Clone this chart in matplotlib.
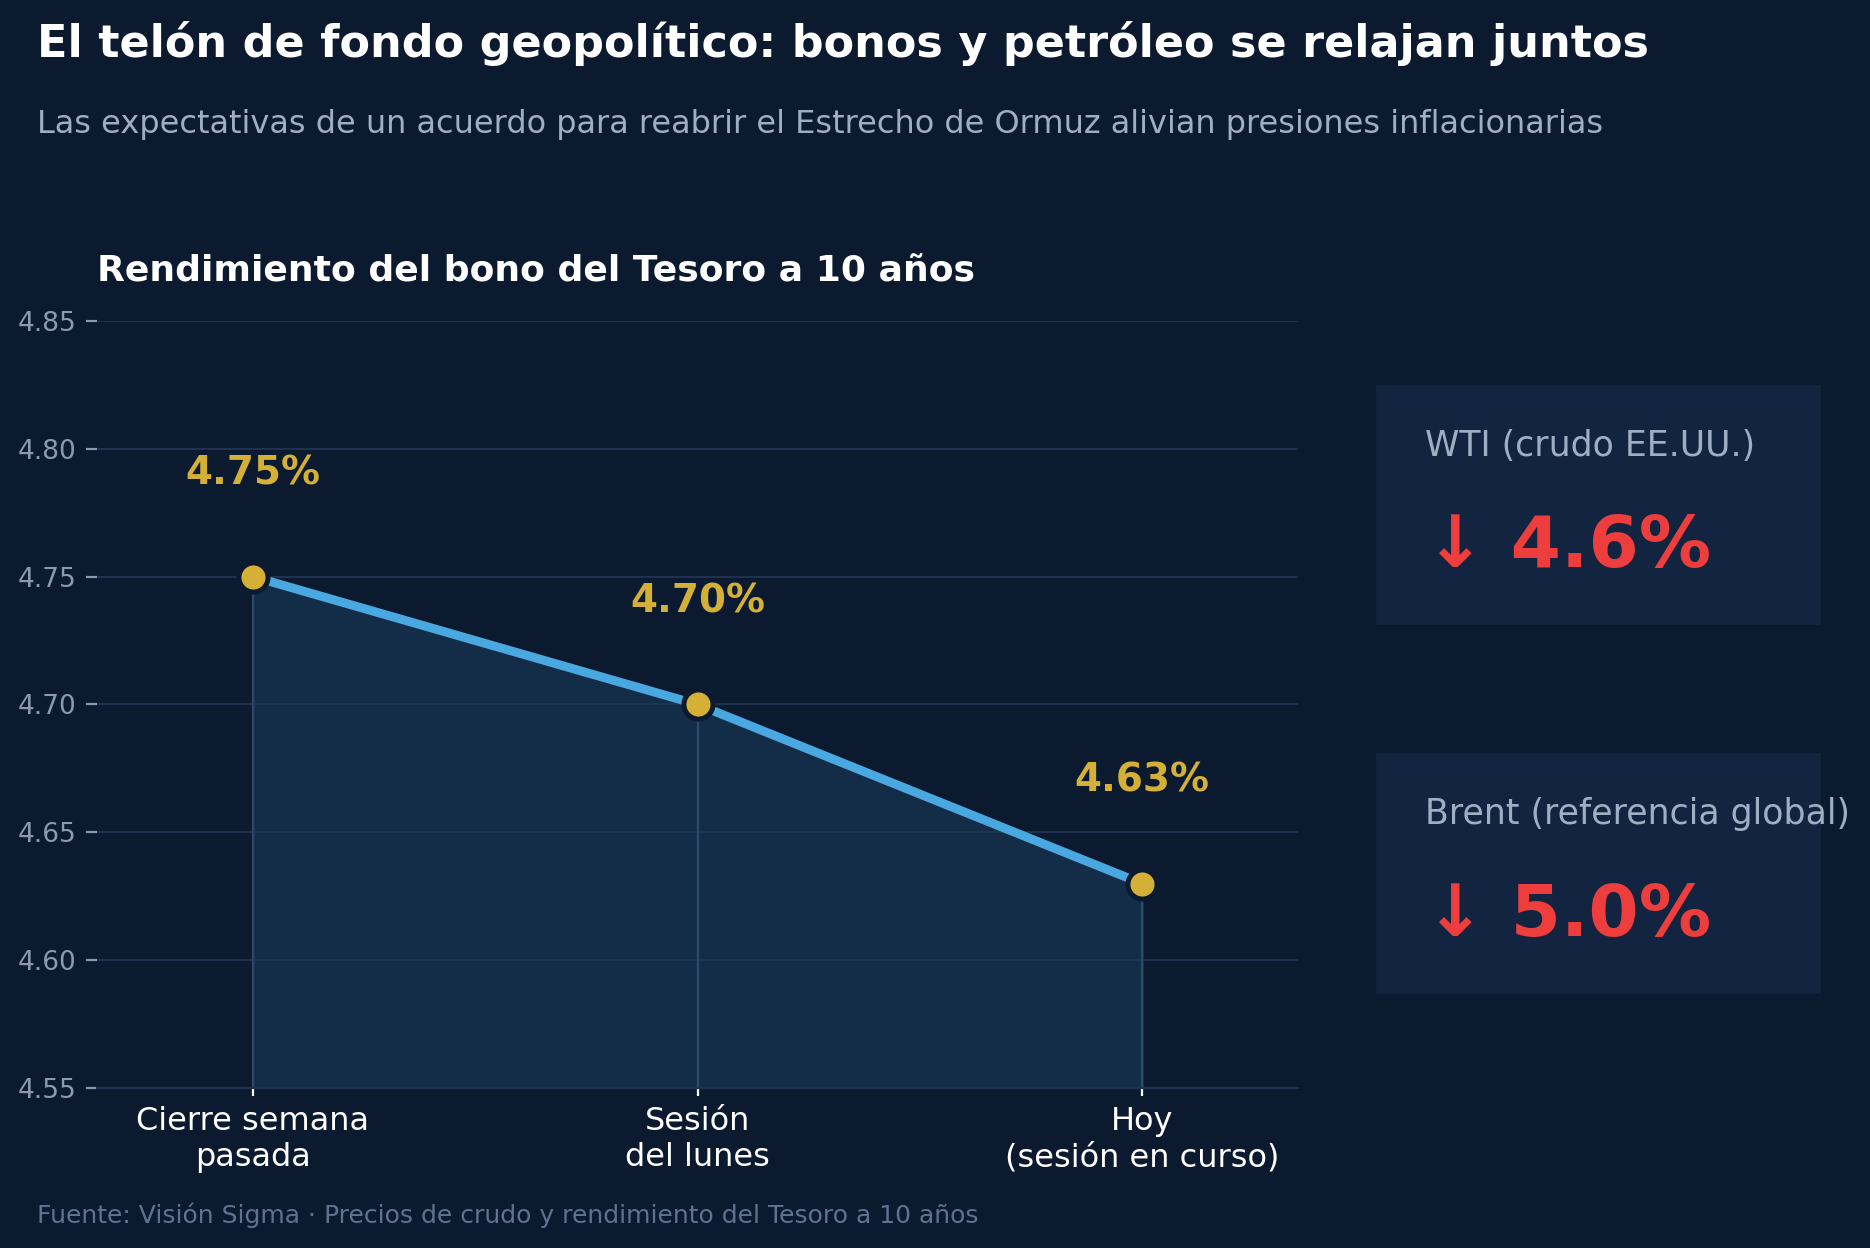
import matplotlib
matplotlib.use("Agg")
import matplotlib.pyplot as plt
from matplotlib.patches import Rectangle

labels = ["Cierre semana\npasada", "Sesión\ndel lunes", "Hoy\n(sesión en curso)"]
yields = [4.75, 4.70, 4.63]
oil_names = ["WTI (crudo EE.UU.)", "Brent (referencia global)"]
oil_changes = ["↓ 4.6%", "↓ 5.0%"]

bg = "#0b1a2e"
box_bg = "#12243f"
line_c = "#4aa8e0"
gold = "#d4b037"
red = "#ee3d3d"

fig = plt.figure(figsize=(9.35, 6.24), dpi=200, facecolor=bg)
ax = fig.add_axes([0.052, 0.128, 0.642, 0.615], facecolor=bg)

x = list(range(len(yields)))
ax.fill_between(x, yields, 4.55, color="#1a3a5a", alpha=0.6, zorder=1)
ax.vlines(x, 4.55, yields, color="#2a4a6a", lw=0.8, zorder=1)
ax.plot(x, yields, color=line_c, lw=3.2, zorder=3)
ax.scatter(x, yields, s=110, color=gold, edgecolors=bg, linewidths=1.8, zorder=4)
for xi, yi in zip(x, yields):
    ax.text(xi, yi + 0.033, f"{yi:.2f}%", color=gold, fontsize=14,
            fontweight="bold", ha="center", va="bottom")

ax.set_xlim(-0.35, 2.35)
ax.set_ylim(4.55, 4.85)
ax.set_yticks([4.55, 4.60, 4.65, 4.70, 4.75, 4.80, 4.85])
ax.set_yticklabels([f"{v:.2f}" for v in ax.get_yticks()])
ax.set_xticks(x)
ax.set_xticklabels(labels)
ax.tick_params(axis="y", colors="#8a9ab0", labelsize=9.5, length=4)
ax.tick_params(axis="x", colors="white", labelsize=11.5, length=3)
for lab in ax.get_xticklabels():
    lab.set_color("white")
ax.grid(axis="y", color="#1f3350", lw=0.7)
ax.set_axisbelow(True)
for s in ["top", "right", "left"]:
    ax.spines[s].set_visible(False)
ax.spines["bottom"].set_color("#1f3350")
ax.set_title("Rendimiento del bono del Tesoro a 10 años", loc="left",
             color="white", fontsize=13, fontweight="bold", pad=14)

fig.text(0.02, 0.965, "El telón de fondo geopolítico: bonos y petróleo se relajan juntos",
         color="white", fontsize=16, fontweight="bold", va="center")
fig.text(0.02, 0.9, "Las expectativas de un acuerdo para reabrir el Estrecho de Ormuz alivian presiones inflacionarias",
         color="#a0aec4", fontsize=11.5, va="center")
fig.text(0.02, 0.026, "Fuente: Visión Sigma · Precios de crudo y rendimiento del Tesoro a 10 años",
         color="#5f7290", fontsize=9, va="center")

for i, (name, val) in enumerate(zip(oil_names, oil_changes)):
    bottom = 0.501 - i * 0.2955
    fig.patches.append(Rectangle((0.7366, bottom), 0.236, 0.19,
                                 transform=fig.transFigure, color=box_bg, zorder=0))
    fig.text(0.762, bottom + 0.142, name, color="#a0aec4", fontsize=12.5, va="center")
    fig.text(0.762, bottom + 0.06, val, color=red, fontsize=26,
             fontweight="bold", va="center")

fig.savefig("out.png", dpi=200, facecolor=bg)
